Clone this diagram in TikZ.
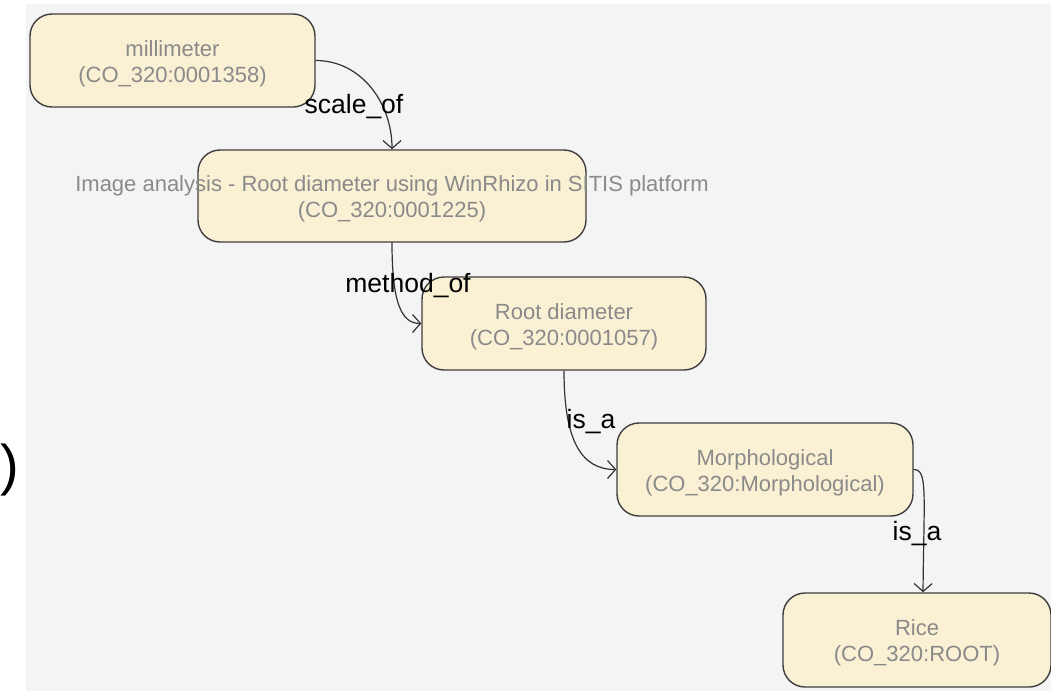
\documentclass[tikz,border=0pt]{standalone}
\usepackage{fontspec}
\setmainfont{Liberation Sans}
\usetikzlibrary{arrows.meta}
\definecolor{bggray}{HTML}{F4F4F4}
\definecolor{boxfill}{HTML}{FAF0D4}
\definecolor{boxline}{HTML}{3E3E3E}
\definecolor{nodetxt}{HTML}{8A8A8A}
\definecolor{edgeline}{HTML}{333333}
\tikzset{
  termbox/.style={draw=boxline, fill=boxfill, line width=1.4pt, rounded corners=22pt, inner sep=0pt},
  termtext/.style={text=nodetxt, font=\fontsize{22}{26}\selectfont, align=center, inner sep=0pt},
  rel/.style={draw=edgeline, line width=1.2pt, -{Straight Barb[length=8pt,width=18pt,line width=1.2pt]}},
  rellabel/.style={font=\fontsize{26.5}{28}\selectfont, text=black, inner sep=0pt, anchor=base}
}
\begin{document}
\begin{tikzpicture}[x=1pt,y=-1pt]
\useasboundingbox (0,0) rectangle (1051,691);
\fill[white] (0,0) rectangle (1051,691);
\fill[bggray] (26,4) rectangle (1051,691);
\node[anchor=west, inner sep=0pt, font=\fontsize{56}{60}\selectfont] (paren) at (0,470) {)};

\node[termbox, minimum width=285pt, minimum height=93pt] (mm) at (172.5,60.5) {};
\node[termtext] (mmt) at (172.5,64) {millimeter\\(CO\_320:0001358)};

\node[termbox, minimum width=388pt, minimum height=92pt] (ia) at (392,196) {};
\node[termtext] (iat) at (392,199) {Image analysis - Root diameter using WinRhizo in SITIS platform\\(CO\_320:0001225)};

\node[termbox, minimum width=284pt, minimum height=93pt] (rd) at (564,323.5) {};
\node[termtext] (rdt) at (564,327) {Root diameter\\(CO\_320:0001057)};

\node[termbox, minimum width=296pt, minimum height=93pt] (mo) at (765,469.5) {};
\node[termtext] (mot) at (765,473) {Morphological\\(CO\_320:Morphological)};

\node[termbox, minimum width=268pt, minimum height=94pt] (ri) at (917,640) {};
\node[termtext] (rit) at (917,643) {Rice\\(CO\_320:ROOT)};

\draw[rel] (mm.east) to[out=0,in=90] (ia.north);
\draw[rel] (ia.south) .. controls +(0,60) and +(-20,0) .. (rd.west);
\draw[rel] (rd.south) .. controls +(0,70) and +(-35,0) .. (mo.west);
\draw[rel] (mo.east) .. controls +(14,0) and +(1,-100) .. ([xshift=6pt]ri.north);

\node[rellabel] (l1) at (354,113) {scale\_of};
\node[rellabel] (l2) at (408,292) {method\_of};
\node[rellabel] (l3) at (591,428) {is\_a};
\node[rellabel] (l4) at (917,540) {is\_a};
\end{tikzpicture}
\end{document}
